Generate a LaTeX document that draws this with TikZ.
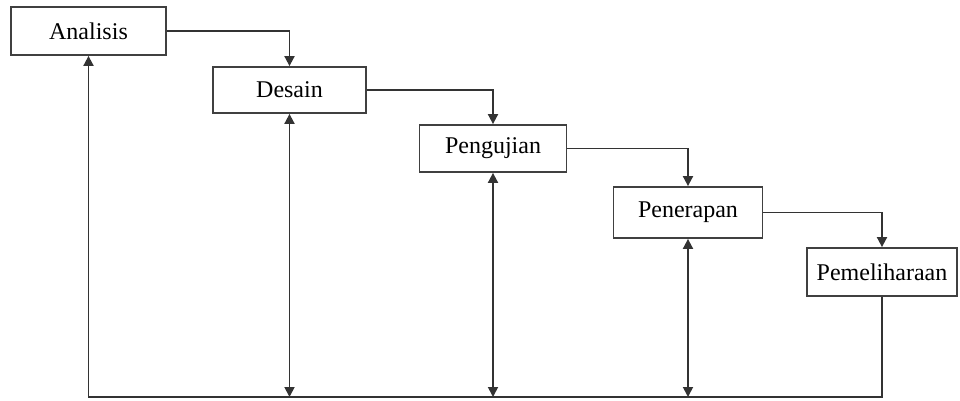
\documentclass[tikz,border=0pt]{standalone}
\usepackage{fontspec}
\setmainfont{Liberation Serif}
\usetikzlibrary{arrows.meta, positioning}

\begin{document}
\begin{tikzpicture}[
        x=0.5pt, y=-0.5pt,
        every node/.style={font=\fontsize{12}{14}\selectfont},
        phase/.style={rectangle, draw=black!75, line width=0.9pt, minimum height=24pt, align=center, inner sep=0pt},
        tip/.style={Triangle[length=5pt,width=5pt]},
        arrow/.style={-{Triangle[length=5pt,width=5pt]}, draw=black!80, line width=0.9pt}
    ]
    \useasboundingbox (0,0) rectangle (960,401);

    % Phases
    \node[phase, minimum width=77.5pt] (ana) at (88.5,31) {Analisis};
    \node[phase, minimum width=76.5pt, minimum height=23pt] (des) at (289.5,90) {Desain};
    \node[phase, minimum width=73.5pt, minimum height=23.5pt] (uji) at (493,148.5) {Pengujian};
    \node[phase, minimum width=74.5pt, minimum height=25.5pt] (ter) at (688,212.5) {Penerapan};
    \node[phase, minimum width=75pt] (pem) at (882,272) {Pemeliharaan};

    \coordinate (base) at (0,397);

    % Flow down
    \draw[arrow] (ana.east) -| (des.north);
    \draw[arrow] (des.east) -| (uji.north);
    \draw[arrow] (uji.east) -| (ter.north);
    \draw[arrow] (ter.east) -| (pem.north);

    % Feedback
    \draw[arrow] (pem.south) |- (base -| ana.south) -- (ana.south);
    \foreach \n in {des, uji, ter}
        \draw[arrow, {Triangle[length=5pt,width=5pt]}-{Triangle[length=5pt,width=5pt]}] (\n.south) -- (\n.south |- base);
\end{tikzpicture}
\end{document}
